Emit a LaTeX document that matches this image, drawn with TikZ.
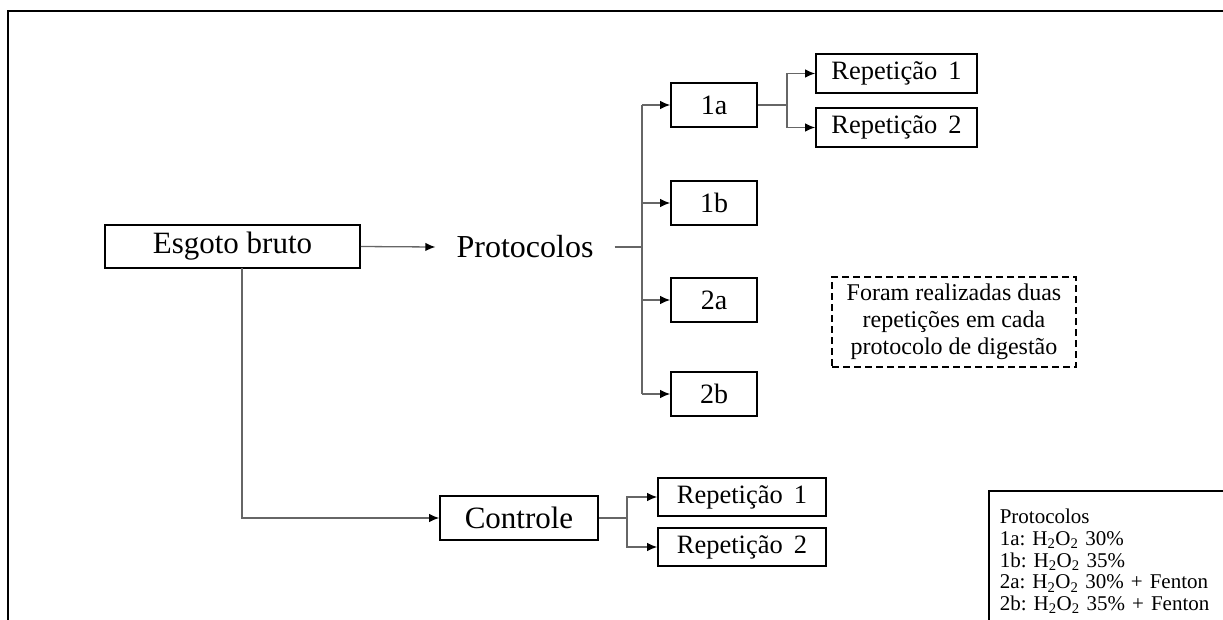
\documentclass[tikz,border=0pt]{standalone}
\usepackage{fontspec}
\setmainfont{Liberation Serif}
\usetikzlibrary{arrows.meta}
\begin{document}
\frenchspacing
\begin{tikzpicture}[x=1pt,y=-1pt,
 box/.style={draw=black,line width=1.6pt,inner sep=0pt,anchor=center,align=center},
 conn/.style={draw=black!60,line width=1.3pt},
 arr/.style={conn,-{Latex[length=10pt,width=8.5pt,black]}},
 big/.style={font=\fontsize{31}{36}\selectfont},
 mid/.style={font=\fontsize{28}{32}\selectfont},
 rep/.style={font=\fontsize{26.5}{30}\selectfont},
]
\useasboundingbox (0,0) rectangle (1223,619);
\clip (0,0) rectangle (1223,619);
% outer frame
\draw[line width=2.8pt,black] (8,640) -- (8,11) -- (1240,11);

% nodes
\node[box,big,minimum width=255pt,minimum height=43pt] (esgoto) at (232.5,246.5) {Esgoto bruto};
\node[font=\fontsize{32}{38}\selectfont,inner xsep=21pt,inner ysep=0pt] (prot) at (525,247) {Protocolos};
\node[box,mid,minimum width=86pt,minimum height=44pt] (p1a) at (714,105) {1a};
\node[box,mid,minimum width=86pt,minimum height=44pt] (p1b) at (714,203) {1b};
\node[box,mid,minimum width=86pt,minimum height=44pt] (p2a) at (714,300) {2a};
\node[box,mid,minimum width=86pt,minimum height=44pt] (p2b) at (714,394) {2b};
\node[box,rep,minimum width=161pt,minimum height=39pt] (r1) at (896.5,73.5) {Repetição\, 1};
\node[box,rep,minimum width=161pt,minimum height=39pt] (r2) at (896.5,127.5) {Repetição\, 2};
\node[box,dash pattern=on 7pt off 4pt,line width=1.4pt,minimum width=244pt,minimum height=90pt,
  font=\fontsize{24}{27}\selectfont] (note) at (954,322)
  {Foram realizadas duas\\repetições em cada\\protocolo de digestão};
\node[box,big,minimum width=158pt,minimum height=44pt] (ctrl) at (519,518) {Controle};
\node[box,rep,minimum width=168pt,minimum height=38pt] (rc1) at (742,497) {Repetição\, 1};
\node[box,rep,minimum width=168pt,minimum height=38pt] (rc2) at (742,547) {Repetição\, 2};
\node[draw=black,line width=1.6pt,anchor=north west,align=left,inner xsep=11pt,inner ysep=0pt,
  minimum width=260pt,minimum height=160pt,text width=240pt,
  font=\fontsize{21}{21.7}\selectfont] (leg) at (988,490)
  {Protocolos\\
   1a: H\textsubscript{2}O\textsubscript{2} 30\%\\
   1b: H\textsubscript{2}O\textsubscript{2} 35\%\\
   2a: H\textsubscript{2}O\textsubscript{2} 30\% + Fenton\\
   2b: H\textsubscript{2}O\textsubscript{2} 35\% + Fenton\\
   \phantom{x}};

% connectors
\coordinate (bus) at (642,247);
\draw[arr] (esgoto.east) -- (prot.west);
\draw[conn] (prot.east) -- (bus);
\draw[conn] (bus |- p1a) -- (bus |- p2b);
\draw[arr] (bus |- p1a) -- (p1a.west);
\draw[arr] (bus |- p1b) -- (p1b.west);
\draw[arr] (bus |- p2a) -- (p2a.west);
\draw[arr] (bus |- p2b) -- (p2b.west);

\coordinate (s1) at (787,105);
\draw[conn] (p1a.east) -- (s1);
\draw[arr] (s1) |- (r1.west);
\draw[arr] (s1) |- (r2.west);

\coordinate (e1) at (242,268);
\draw[arr] (e1) |- (ctrl.west);

\coordinate (s2) at (627,518);
\draw[conn] (ctrl.east) -- (s2);
\draw[arr] (s2) |- (rc1.west);
\draw[arr] (s2) |- (rc2.west);
\end{tikzpicture}
\end{document}
